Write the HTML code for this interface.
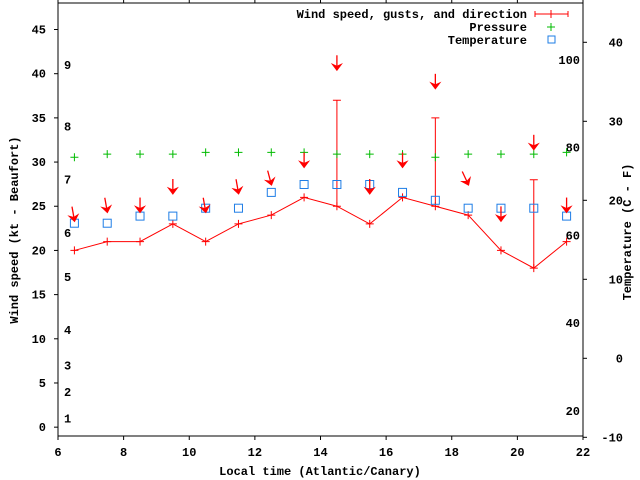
<!DOCTYPE html>
<html><head><meta charset="utf-8"><style>
html,body{margin:0;padding:0;background:#fff;}
svg{display:block;font-family:"Liberation Mono","DejaVu Sans Mono",monospace;font-weight:bold;font-size:12px;}
</style></head><body>
<svg id="chart" width="640" height="480" viewBox="0 0 640 480">
<g id="axes"></g>
<g id="marks"></g>
<text transform="translate(18,230) rotate(-90)" text-anchor="middle">Wind speed (kt - Beaufort)</text>
<text transform="translate(631,232) rotate(-90)" text-anchor="middle">Temperature (C - F)</text>
<text x="320" y="475" text-anchor="middle">Local time (Atlantic/Canary)</text>
<g>
<text x="527" y="18" text-anchor="end">Wind speed, gusts, and direction</text>
<line x1="535" y1="14" x2="568" y2="14" stroke="#f00"/><line x1="535" y1="11" x2="535" y2="17" stroke="#f00"/><line x1="568" y1="11" x2="568" y2="17" stroke="#f00"/><line x1="551" y1="10" x2="551" y2="18" stroke="#f00"/>
<text x="527" y="31" text-anchor="end">Pressure</text>
<path d="M547 27h8M551 23v8" stroke="#0b0"/>
<text x="527" y="44" text-anchor="end">Temperature</text>
<rect x="548" y="36" width="7" height="7" fill="none" stroke="#1e7de6"/>
</g>
</svg>
<script>
const hours=[6.5,7.5,8.5,9.5,10.5,11.5,12.5,13.5,14.5,15.5,16.5,17.5,18.5,19.5,20.5,21.5];
const windSpeed=[20,21,21,23,21,23,24,26,25,23,26,25,24,20,18,21];
const gustHours=[14.5,17.5,20.5];
const gustSpeed=[37,35,28];
const pressure=[30.55,30.9,30.9,30.9,31.1,31.1,31.1,31.1,30.9,30.9,30.9,30.55,30.9,30.9,30.9,31.1];
const temperature=[17.1,17.1,18,18,19,19,21,22,22,22,21,20,19,19,19,18];
const arrowLevel=[23.4,24.4,24.4,26.5,24.4,26.5,27.5,29.5,40.5,26.5,29.5,38.4,27.5,23.4,31.5,24.4];
const windDir=[350,350,0,0,350,350,345,0,0,0,0,0,335,0,0,0];
const xTicks=[6,8,10,12,14,16,18,20,22];
const yTicks=[0,5,10,15,20,25,30,35,40,45];
const y2Ticks=[-10,0,10,20,30,40];
const beaufortLabels=["1","2","3","4","5","6","7","8","9"];
const beaufortKt=[1,4,7,11,17,22,28,34,41];
const fahrLabels=["20","40","60","80","100"];
const fahrValues=[20,40,60,80,100];

const L=58,R=583,T=3,B=436;
const X=t=>L+(t-6)/16*(R-L);
const Y=v=>B-(v+1)/49*(B-T);
const Y2=c=>358.3-c*7.9;
const NS='http://www.w3.org/2000/svg';
function mk(tag,attrs,parent,txt){const e=document.createElementNS(NS,tag);for(const k in attrs)e.setAttribute(k,attrs[k]);if(txt!==undefined)e.textContent=txt;parent.appendChild(e);return e;}
const axes=document.getElementById('axes'),marks=document.getElementById('marks');

const frame=mk('rect',{x:L,y:T,width:R-L,height:B-T,fill:'none',stroke:'#000'},axes);


xTicks.forEach(t=>{
  mk('line',{x1:X(t),y1:B,x2:X(t),y2:B+4,stroke:'#000'},axes);
  mk('line',{x1:X(t),y1:T,x2:X(t),y2:T-4,stroke:'#000'},axes);
  const tx=mk('text',{x:X(t),y:B+20,'text-anchor':'middle'},axes,String(t));
  
  
});
yTicks.forEach(v=>{
  mk('line',{x1:L-4,y1:Y(v),x2:L,y2:Y(v),stroke:'#000'},axes);
  const tx=mk('text',{x:L-12,y:Y(v)+4,'text-anchor':'end'},axes,String(v));
  
  
});
y2Ticks.forEach(c=>{
  mk('line',{x1:R,y1:Y2(c),x2:R+4,y2:Y2(c),stroke:'#000'},axes);
  const tx=mk('text',{x:R+40,y:Y2(c)+4,'text-anchor':'end'},axes,String(c));
  
  
});
beaufortLabels.forEach((s,i)=>{
  const tx=mk('text',{x:64,y:Y(beaufortKt[i])+4},axes,s);
  
  
});
fahrLabels.forEach((s,i)=>{
  const c=(fahrValues[i]-32)*5/9;
  const tx=mk('text',{x:580,y:Y2(c)+4,'text-anchor':'end'},axes,s);
  
  
});

// wind line
const pts=hours.map((h,i)=>X(h)+','+Y(windSpeed[i])).join(' ');
const line=mk('polyline',{points:pts,fill:'none',stroke:'#f00'},marks);


hours.forEach((h,i)=>{
  const p=mk('path',{d:`M${X(h)-4} ${Y(windSpeed[i])}h8M${X(h)} ${Y(windSpeed[i])-4}v8`,stroke:'#f00'},marks);
  
  
});
gustHours.forEach((h,i)=>{
  const idx=hours.indexOf(h);
  const x=X(h),y1=Y(windSpeed[idx]),y2=Y(gustSpeed[i]);
  const g=mk('path',{d:`M${x} ${y1}V${y2}M${x-4} ${y2}h8`,stroke:'#f00'},marks);
  
  
});
hours.forEach((h,i)=>{
  const x=X(h),y=Y(pressure[i]);
  const p=mk('path',{d:`M${x-4} ${y}h8M${x} ${y-4}v8`,stroke:'#0b0'},marks);
  
  
});
hours.forEach((h,i)=>{
  const x=X(h),y=Y2(temperature[i]);
  const r=mk('rect',{x:x-4,y:y-4,width:8,height:8,fill:'none',stroke:'#1e7de6'},marks);
  
  
});
hours.forEach((h,i)=>{
  const x=X(h),y=Y(arrowLevel[i]);
  const a=mk('g',{transform:`translate(${x},${y}) rotate(${windDir[i]})`},marks);
  
  
  mk('line',{x1:0,y1:-14,x2:0,y2:0,stroke:'#f00','stroke-width':1.3},a);
  mk('path',{d:'M-4.5 -5L0 1L4.5 -5L0 -3Z',fill:'#f00',stroke:'#f00'},a);
});
</script>
</body></html>
